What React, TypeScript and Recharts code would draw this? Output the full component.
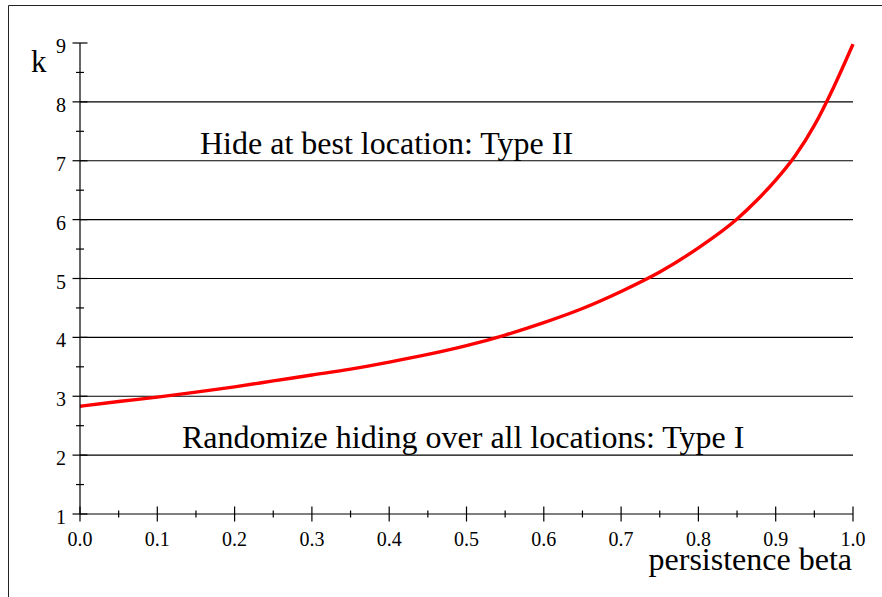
import { LineChart, Line, XAxis, YAxis, ReferenceLine } from 'recharts';

// persistence beta vs k
const beta = [0, 0.05, 0.1, 0.15, 0.2, 0.25, 0.3, 0.35, 0.4, 0.45, 0.5, 0.55, 0.6, 0.65, 0.7, 0.75, 0.8, 0.85, 0.875, 0.9, 0.925, 0.95, 0.975, 1.0];
const kValues = [2.83, 2.91, 2.985, 3.07, 3.16, 3.26, 3.36, 3.46, 3.58, 3.71, 3.86, 4.04, 4.25, 4.49, 4.78, 5.11, 5.52, 6.01, 6.32, 6.67, 7.08, 7.6, 8.25, 8.98];

const xTicks = [0, 0.05, 0.1, 0.15, 0.2, 0.25, 0.3, 0.35, 0.4, 0.45, 0.5, 0.55, 0.6, 0.65, 0.7, 0.75, 0.8, 0.85, 0.9, 0.95, 1.0];
const yTicks = [1, 1.5, 2, 2.5, 3, 3.5, 4, 4.5, 5, 5.5, 6, 6.5, 7, 7.5, 8, 8.5, 9];
const gridLevels = [2, 3, 4, 5, 6, 7, 8];

const data = beta.map((b, i) => ({ beta: b, k: kValues[i] }));

const FONT = '"Liberation Serif", "DejaVu Serif", serif';

const isMajor = (v: number, step: number) => Math.abs(v / step - Math.round(v / step)) < 1e-6;

function XTick(props: any) {
  const { x, y, payload } = props;
  const v = payload.value as number;
  const major = isMajor(v, 0.1);
  const len = major ? 7.5 : 3.5;
  return (
    <g>
      <line x1={x} x2={x} y1={y - len} y2={y + len} stroke="#000" strokeWidth={1.2} />
      {major && (
        <text x={x} y={y + 32} textAnchor="middle" fontFamily={FONT} fontSize={20} fill="#000">
          {v.toFixed(1)}
        </text>
      )}
    </g>
  );
}

function YTick(props: any) {
  const { x, y, payload } = props;
  const v = payload.value as number;
  const major = isMajor(v, 1);
  const len = major ? 7.5 : 4;
  return (
    <g>
      <line x1={x - len} x2={x + len} y1={y} y2={y} stroke="#000" strokeWidth={1.2} />
      {major && (
        <text x={x - 14} y={y + 10} textAnchor="end" fontFamily={FONT} fontSize={20} fill="#000">
          {v}
        </text>
      )}
    </g>
  );
}

export default function App() {
  return (
    <div style={{ position: 'absolute', left: 0, top: 0, width: 882, height: 597, background: '#fff' }}>
      <LineChart
        width={882}
        height={597}
        data={data}
        margin={{ top: 43, right: 29, bottom: 82, left: 79 }}
      >
        <XAxis
          dataKey="beta"
          type="number"
          domain={[0, 1]}
          ticks={xTicks}
          height={1}
          tickSize={0}
          tickMargin={0}
          tickLine={false}
          axisLine={{ stroke: '#000', strokeWidth: 1.2 }}
          tick={<XTick />}
          interval={0}
        />
        <YAxis
          type="number"
          domain={[1, 9]}
          ticks={yTicks}
          width={1}
          tickSize={0}
          tickMargin={0}
          tickLine={false}
          axisLine={{ stroke: '#000', strokeWidth: 1.2 }}
          tick={<YTick />}
          interval={0}
        />
        {gridLevels.map((g) => (
          <ReferenceLine key={g} y={g} stroke="#000" strokeWidth={1.2} />
        ))}
        <Line
          type="monotone"
          dataKey="k"
          stroke="#ff0000"
          strokeWidth={3.4}
          dot={false}
          isAnimationActive={false}
        />
      </LineChart>
      <svg
        width={882}
        height={597}
        style={{ position: 'absolute', left: 0, top: 0, pointerEvents: 'none' }}
      >
        <line x1={8.5} x2={882} y1={5.5} y2={5.5} stroke="#222" strokeWidth={1} />
        <line x1={8.5} x2={8.5} y1={5.5} y2={597} stroke="#222" strokeWidth={1} />
        <text x={31} y={72} fontFamily={FONT} fontSize={31} fill="#000">k</text>
        <text x={852} y={570} textAnchor="end" fontFamily={FONT} fontSize={32} fill="#000">
          persistence beta
        </text>
        <text x={200} y={154} fontFamily={FONT} fontSize={32} fill="#000">
          Hide at best location: Type II
        </text>
        <text x={182} y={448} fontFamily={FONT} fontSize={32} fill="#000">
          Randomize hiding over all locations: Type I
        </text>
      </svg>
    </div>
  );
}
